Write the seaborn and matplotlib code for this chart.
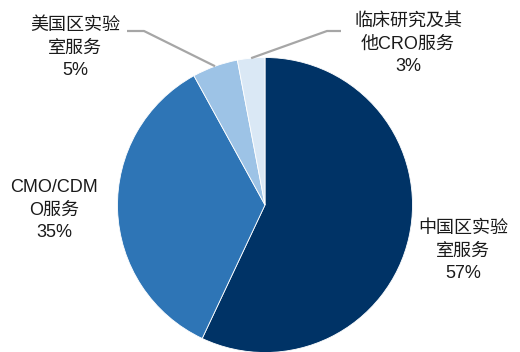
import numpy as np
import matplotlib
matplotlib.use("Agg")
import matplotlib.pyplot as plt
import seaborn as sns

# Revenue split by business segment
segments = ["中国区实验室服务", "CMO/CDMO服务", "美国区实验室服务", "临床研究及其他CRO服务"]
shares = [57, 35, 5, 3]
label_texts = ["中国区实验\n室服务", "CMO/CDM\nO服务", "美国区实验\n室服务", "临床研究及其\n他CRO服务"]
colors = ["#003366", "#2E75B6", "#9DC3E6", "#DAE8F5"]

sns.set_theme(style="white")
plt.rcParams["font.family"] = ["Liberation Sans", "Noto Sans CJK SC", "DejaVu Sans"]

W, H = 520, 352
fig = plt.figure(figsize=(W / 100, H / 100), dpi=100)
ax = fig.add_axes([0, 0, 1, 1])

# pie centre and radius in pixels
cx, cy, R = 265.0, 205.0, 147.5


def px(x, y):
    """pixel position (origin top-left) -> data units of the pie axes"""
    return (x - cx) / R, (cy - y) / R


wedges, _ = ax.pie(shares, colors=colors, startangle=90, counterclock=False,
                   radius=1.0, wedgeprops=dict(edgecolor="white", linewidth=0.6))
ax.set_xlim(px(0, 0)[0], px(W, 0)[0])
ax.set_ylim(px(0, H)[1], px(0, 0)[1])
ax.set_aspect("auto")
ax.axis("off")

# label anchors (pixel centre of text block)
label_pos = [(463, 251), (54, 210), (75, 48), (408, 44)]
fs = 13
for text, share, (lx, ly) in zip(label_texts, shares, label_pos):
    x, y = px(lx, ly)
    ax.text(x, y, f"{text}\n{share}%", ha="center", va="center",
            fontsize=fs, linespacing=1.42, color="#1a1a1a")

# leader lines for the two small slices
leaders = {2: [(127, 31), (144, 31)], 3: [(341, 31), (327, 31)]}
for idx, pts in leaders.items():
    w = wedges[idx]
    mid = np.deg2rad((w.theta1 + w.theta2) / 2)
    ex, ey = np.cos(mid) * 1.0, np.sin(mid) * 1.0
    xs = [px(*p)[0] for p in pts] + [ex]
    ys = [px(*p)[1] for p in pts] + [ey]
    ax.plot(xs, ys, color="#A6A6A6", linewidth=1.6, solid_capstyle="butt")

fig.savefig("out.png", dpi=100)
